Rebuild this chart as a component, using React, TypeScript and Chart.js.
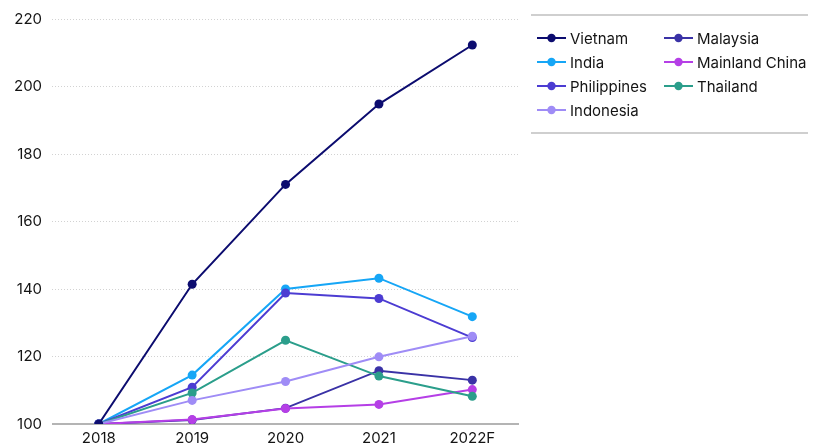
import React, { useEffect, useRef } from "react";
import { Chart, registerables } from "chart.js";

Chart.register(...registerables);

const categories = ["2018", "2019", "2020", "2021", "2022F"];
const vietnam = [100, 141.4, 171, 194.8, 212.3];
const india = [100, 114.5, 140, 143.2, 131.8];
const philippines = [100, 110.9, 138.8, 137.2, 125.6];
const indonesia = [100, 107, 112.6, 119.9, 126];
const malaysia = [100, 101.2, 104.7, 115.8, 113];
const mainlandChina = [100, 101.3, 104.6, 105.8, 110.2];
const thailand = [100, 109.2, 124.8, 114.2, 108.2];
const yTicks = [100, 120, 140, 160, 180, 200, 220];

const FONT = "Inter, 'Noto Sans', sans-serif";

const seriesDefs = [
  { label: "Vietnam", data: vietnam, color: "#0c0c6f" },
  { label: "Malaysia", data: malaysia, color: "#3a32a6" },
  { label: "India", data: india, color: "#16a6f6" },
  { label: "Mainland China", data: mainlandChina, color: "#b53fe6" },
  { label: "Philippines", data: philippines, color: "#4c3cd2" },
  { label: "Thailand", data: thailand, color: "#2b9e8b" },
  { label: "Indonesia", data: indonesia, color: "#9f8cf6" },
];

const legendPlugin = {
  id: "sideLegend",
  afterDraw(chart: any) {
    const ctx = chart.ctx;
    ctx.save();
    ctx.strokeStyle = "#cfcfcf";
    ctx.lineWidth = 2;
    ctx.beginPath();
    ctx.moveTo(531, 15);
    ctx.lineTo(808, 15);
    ctx.moveTo(531, 133);
    ctx.lineTo(808, 133);
    ctx.stroke();
    const colX = [537, 664];
    const rowY = [38, 62, 86, 110];
    chart.data.datasets.forEach((ds: any, i: number) => {
      const x = colX[i % 2];
      const y = rowY[Math.floor(i / 2)];
      ctx.strokeStyle = ds.borderColor;
      ctx.lineWidth = 2;
      ctx.beginPath();
      ctx.moveTo(x, y);
      ctx.lineTo(x + 29, y);
      ctx.stroke();
      ctx.fillStyle = ds.borderColor;
      ctx.beginPath();
      ctx.arc(x + 14.5, y, 4.2, 0, Math.PI * 2);
      ctx.fill();
      ctx.fillStyle = "#141414";
      ctx.font = `15px ${FONT}`;
      ctx.textBaseline = "middle";
      ctx.textAlign = "left";
      ctx.fillText(ds.label, x + 33, y + 1);
    });
    ctx.restore();
  },
};

export default function App() {
  const ref = useRef<HTMLCanvasElement | null>(null);
  useEffect(() => {
    if (!ref.current) return;
    const chart = new Chart(ref.current, {
      type: "line",
      data: {
        labels: categories,
        datasets: seriesDefs.map((s, i) => ({
          label: s.label,
          data: s.data,
          borderColor: s.color,
          backgroundColor: s.color,
          pointBackgroundColor: s.color,
          pointBorderColor: s.color,
          pointRadius: 4.5,
          pointBorderWidth: 0,
          borderWidth: 2,
          tension: 0,
          order: i === 0 ? -10 : -i,
        })),
      },
      options: {
        animation: false,
        responsive: false,
        maintainAspectRatio: false,
        layout: { padding: { left: 4, right: 300, top: 8, bottom: -5 } },
        plugins: { legend: { display: false }, tooltip: { enabled: false } },
        scales: {
          x: {
            offset: true,
            grid: { display: false, drawTicks: false },
            border: { display: false },
            ticks: { color: "#141414", font: { family: FONT, size: 15 }, padding: 5 },
          },
          y: {
            min: 100,
            max: 220,
            afterBuildTicks: (axis: any) => {
              axis.ticks = yTicks.map((v) => ({ value: v }));
            },
            grid: {
              color: (c: any) => (c.tick && c.tick.value === 100 ? "#b4b4b4" : "#d2d2d2"),
              lineWidth: (c: any) => (c.tick && c.tick.value === 100 ? 2 : 1),
              drawTicks: false,
            },
            border: {
              display: false,
              dash: (c: any) => (c.tick && c.tick.value === 100 ? [] : [1, 2]),
            },
            ticks: { color: "#141414", font: { family: FONT, size: 15 }, padding: 10 },
          },
        },
      },
      plugins: [legendPlugin],
    } as any);
    return () => chart.destroy();
  }, []);
  return (
    <div style={{ position: "absolute", left: 0, top: 0, width: 819, height: 447 }}>
      <canvas ref={ref} width={819} height={447} style={{ width: 819, height: 447 }} />
    </div>
  );
}
